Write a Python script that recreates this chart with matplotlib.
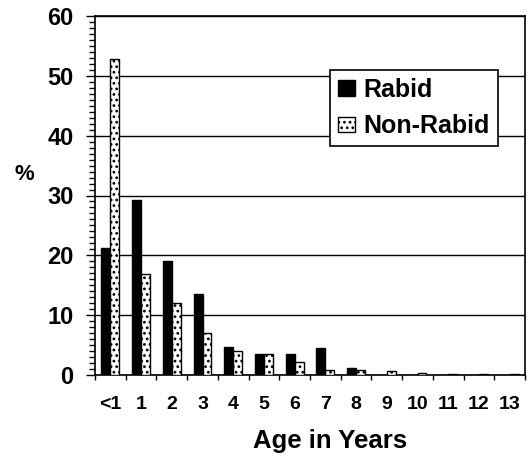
import numpy as np
import matplotlib
matplotlib.use("Agg")
import matplotlib.pyplot as plt
from matplotlib.ticker import MultipleLocator

ages = ['<1', '1', '2', '3', '4', '5', '6', '7', '8', '9', '10', '11', '12', '13']
rabid = [21.3, 29.3, 19.1, 13.5, 4.6, 3.5, 3.5, 4.5, 1.1, 0.0, 0.0, 0.0, 0.0, 0.0]
non_rabid = [52.8, 16.8, 12.0, 7.0, 4.0, 3.5, 2.1, 0.9, 0.8, 0.6, 0.4, 0.25, 0.25, 0.25]

plt.rcParams.update({
    'font.family': 'Liberation Sans',
    'font.weight': 'bold',
    'hatch.linewidth': 1.2,
    'hatch.color': 'black',
})

fig = plt.figure(figsize=(5.28, 4.58), dpi=100)
ax = fig.add_axes([95 / 528, 83 / 458, 430 / 528, 359 / 458])

x = np.arange(len(ages))
w = 0.29
ax.bar(x - w / 2, rabid, w, color='black', edgecolor='black', linewidth=1,
       label='Rabid', zorder=3)
ax.bar(x + w / 2, non_rabid, w, color='white', edgecolor='black', linewidth=1,
       hatch='...', label='Non-Rabid', zorder=3)

ax.set_xlim(-0.5, len(ages) - 0.5)
ax.set_ylim(0, 60)

ax.yaxis.set_major_locator(MultipleLocator(10))
ax.yaxis.set_minor_locator(MultipleLocator(1))
ax.tick_params(axis='y', which='major', length=6.5, width=1, direction='out',
               labelsize=17, pad=9)
ax.tick_params(axis='y', which='minor', length=4.3, width=1, direction='out')

ax.set_xticks(x)
ax.set_xticklabels(ages)
ax.set_xticks(np.arange(len(ages) + 1) - 0.5, minor=True)
ax.tick_params(axis='x', which='major', length=0, labelsize=14, pad=15)
ax.tick_params(axis='x', which='minor', length=3.8, width=1, direction='out')

ax.yaxis.grid(True, which='major', color='black', linewidth=1)
ax.set_axisbelow(True)
for s in ax.spines.values():
    s.set_linewidth(1.2)

fig.text(24 / 528, 1 - 175 / 458, '%', fontsize=16, fontweight='bold',
         ha='center', va='center')
fig.text(330 / 528, 10 / 458, 'Age in Years', fontsize=18.5, fontweight='bold',
         ha='center', va='baseline')

leg = ax.legend(loc='upper right', bbox_to_anchor=(0.937, 0.85),
                borderaxespad=0, fancybox=False, edgecolor='black',
                framealpha=1, handlelength=0.66, handleheight=0.58,
                handletextpad=0.36, labelspacing=0.5, borderpad=0.32,
                prop={'weight': 'bold', 'size': 18})
leg.get_frame().set_linewidth(1.2)
leg.set_zorder(5)

fig.savefig('out.png', dpi=100)
